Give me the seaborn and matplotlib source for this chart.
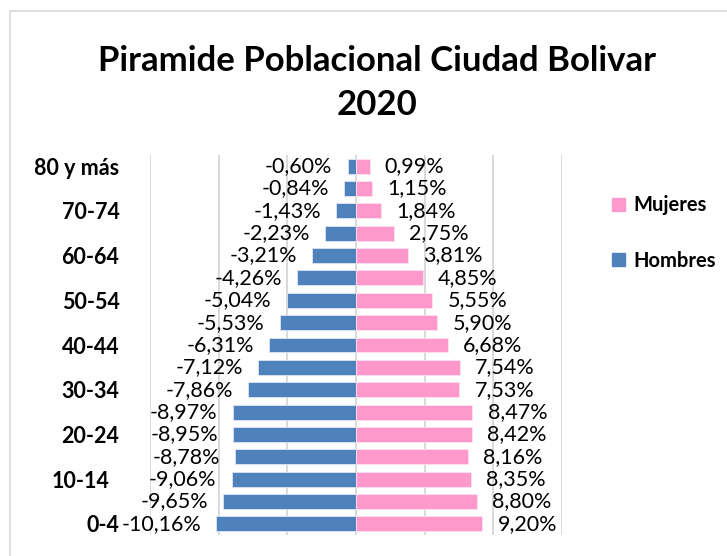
import matplotlib
matplotlib.use("Agg")
import matplotlib.pyplot as plt
import matplotlib.transforms as mtransforms
from matplotlib.patches import Patch, Rectangle
import seaborn as sns
import pandas as pd

# grupos de edad, de arriba hacia abajo
edades = ["80 y más", "75-79", "70-74", "65-69", "60-64", "55-59", "50-54",
          "45-49", "40-44", "35-39", "30-34", "25-29", "20-24", "15-19",
          "10-14", "5-9", "0-4"]
hombres = [-0.60, -0.84, -1.43, -2.23, -3.21, -4.26, -5.04, -5.53, -6.31,
           -7.12, -7.86, -8.97, -8.95, -8.78, -9.06, -9.65, -10.16]
mujeres = [0.99, 1.15, 1.84, 2.75, 3.81, 4.85, 5.55, 5.90, 6.68,
           7.54, 7.53, 8.47, 8.42, 8.16, 8.35, 8.80, 9.20]
# solo se rotula una de cada dos edades
etiquetas_visibles = ["80 y más", "70-74", "60-64", "50-54", "40-44",
                      "30-34", "20-24", "10-14", "0-4"]

AZUL = "#4F81BD"
ROSA = "#FF99CC"

sns.set_style("white")
plt.rcParams["font.family"] = ["Lato", "DejaVu Sans"]
plt.rcParams["text.color"] = "black"
plt.rcParams["ytick.color"] = "black"

df = pd.DataFrame({"Edad": edades, "Hombres": hombres, "Mujeres": mujeres})

fig = plt.figure(figsize=(7.27, 5.56), dpi=100)
ax = fig.add_axes([150 / 727, 21 / 556, 412 / 727, 380 / 556])

sns.barplot(data=df, x="Hombres", y="Edad", orient="h", color=AZUL,
            saturation=1, width=0.67, edgecolor="#DCE6F2", linewidth=0.6,
            ax=ax, order=edades)
sns.barplot(data=df, x="Mujeres", y="Edad", orient="h", color=ROSA,
            saturation=1, width=0.67, edgecolor="#FFE0F0", linewidth=0.6,
            ax=ax, order=edades)

def fmt(v):
    return f"{v:.2f}".replace(".", ",") + "%"

for cont, vals in zip(ax.containers, [hombres, mujeres]):
    ax.bar_label(cont, labels=[fmt(v) for v in vals], padding=11,
                 fontsize=15.5, color="black")

ax.set_xlim(-15, 15)
ax.set_ylim(len(edades) - 0.5, -0.5)
ax.set_xticks([-15, -10, -5, 0, 5, 10, 15])
ax.set_xticklabels([])
ax.grid(axis="x", color="#D9D9D9", linewidth=1.4)
ax.grid(axis="y", visible=False)
ax.set_axisbelow(True)
for s in ax.spines.values():
    s.set_visible(False)
ax.set_xlabel("")
ax.set_ylabel("")

ax.set_yticks(range(len(edades)))
ax.set_yticklabels([e if e in etiquetas_visibles else "" for e in edades],
                   fontsize=15.5, fontweight="bold")
ax.tick_params(axis="y", length=0, pad=22)
ax.tick_params(axis="x", length=0)

# en el original "10-14" queda un poco más a la izquierda
for lbl in ax.get_yticklabels():
    if lbl.get_text() == "10-14":
        lbl.set_transform(lbl.get_transform() +
                          mtransforms.ScaledTranslation(-0.10, 0, fig.dpi_scale_trans))

fig.text(0.519, 1 - 45 / 556, "Piramide Poblacional Ciudad Bolivar\n2020",
         ha="center", va="top", fontsize=25, fontweight="bold",
         linespacing=1.45)

handles = [Patch(color=ROSA, label="Mujeres"), Patch(color=AZUL, label="Hombres")]
fig.legend(handles=handles, loc="center left",
           bbox_to_anchor=(602 / 727, 1 - 233 / 556), frameon=False,
           handlelength=0.65, handleheight=0.65, handletextpad=0.4,
           labelspacing=1.75, borderpad=0,
           prop={"family": ["Lato", "DejaVu Sans"], "weight": "bold", "size": 14.5})

# borde del área del gráfico
fig.patches.append(Rectangle((10 / 727, -0.1), 1.2, 1.1 - 11 / 556,
                             transform=fig.transFigure, fill=False,
                             edgecolor="#D9D9D9", linewidth=1.2))

fig.savefig("out.png", dpi=100)
